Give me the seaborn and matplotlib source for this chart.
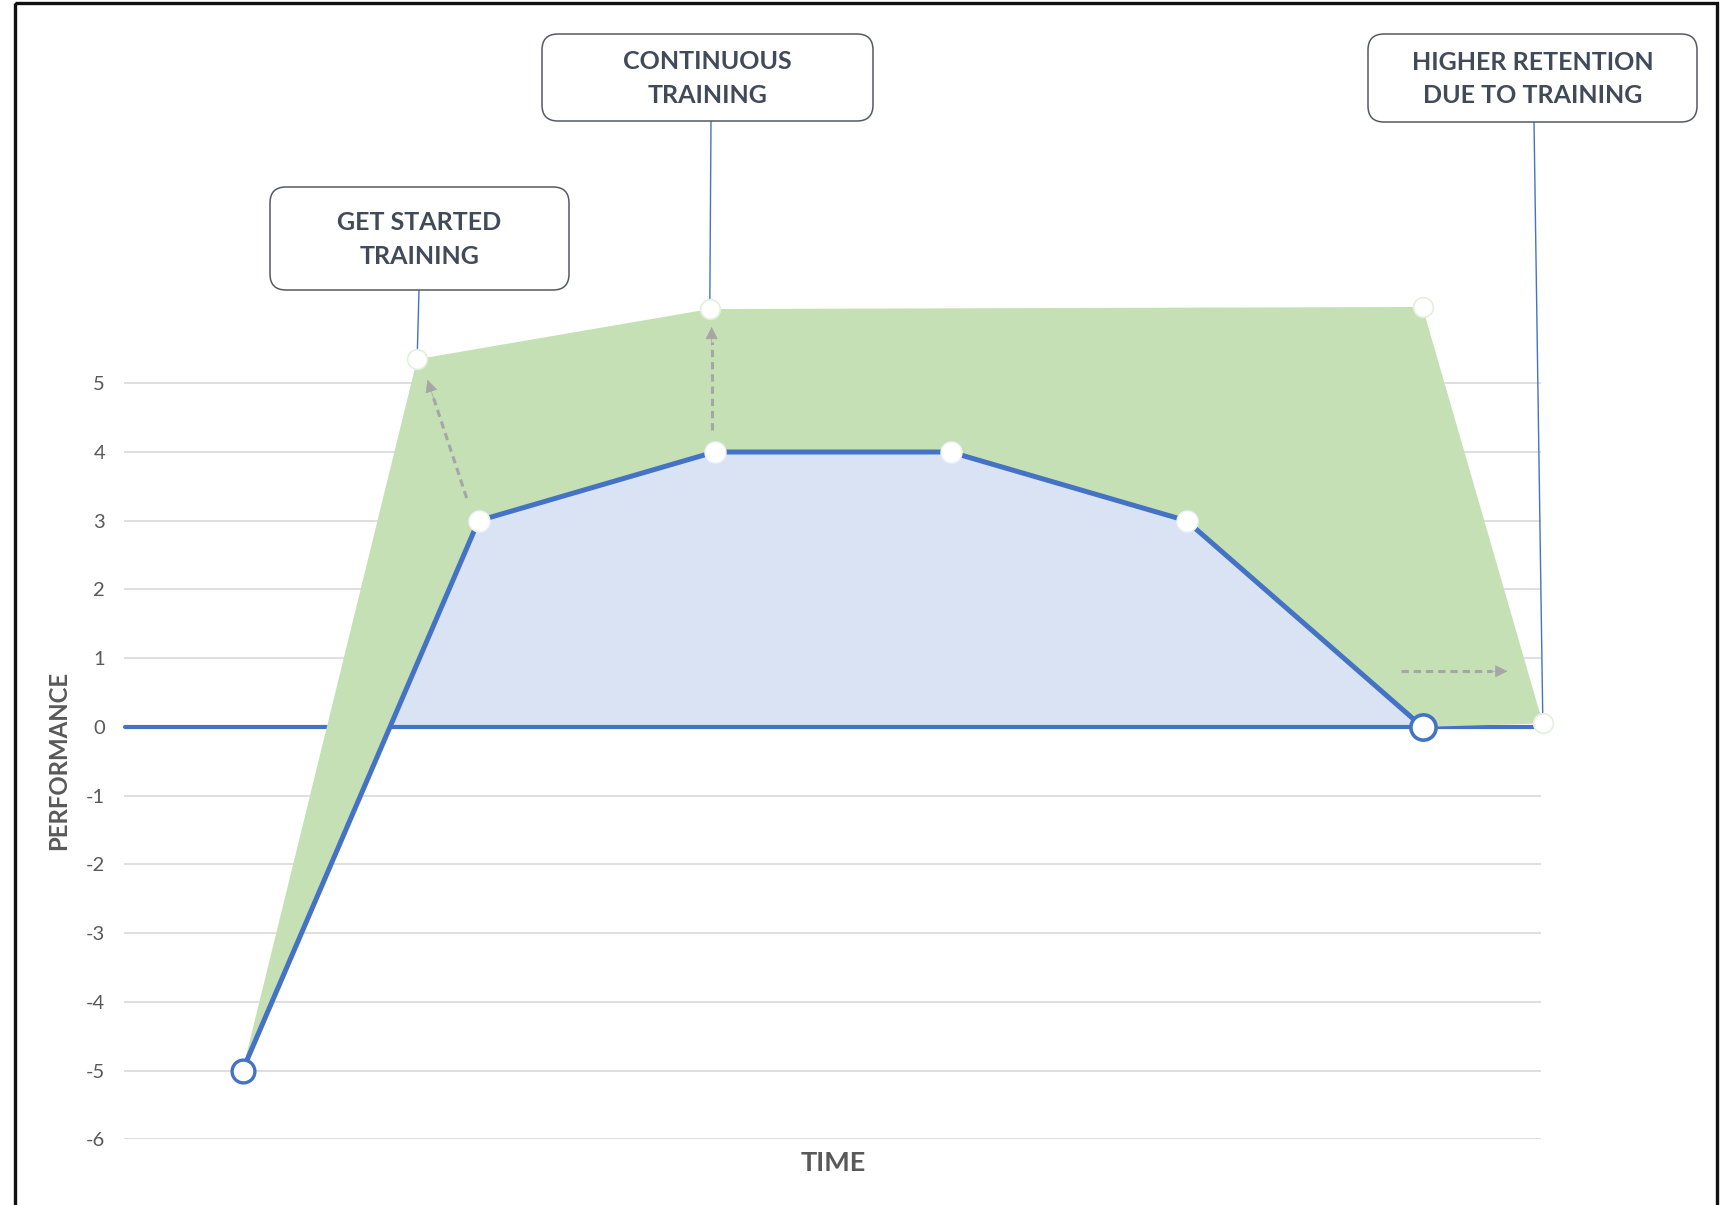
import numpy as np
import matplotlib
matplotlib.use("Agg")
import matplotlib.pyplot as plt
import matplotlib.transforms as mtransforms
from matplotlib.patches import FancyBboxPatch, Rectangle, ConnectionPatch
import seaborn as sns

# Performance per time period without continued training
periods = [0, 1, 2, 3, 4, 5]
performance = [-5, 3, 4, 4, 3, 0]

# Envelope reached when training continues
trained_time = [0.0, 0.74, 1.98, 5.0, 5.51]
trained_performance = [-5.0, 5.35, 6.08, 6.11, 0.05]

y_ticks = [-6, -5, -4, -3, -2, -1, 0, 1, 2, 3, 4, 5]
period_edges = [-0.5, 0.5, 1.5, 2.5, 3.5, 4.5, 5.5]

callout_labels = ["GET STARTED\nTRAINING", "CONTINUOUS\nTRAINING",
                  "HIGHER RETENTION\nDUE TO TRAINING"]
callout_point = [1, 2, 4]          # envelope point each callout refers to

# dashed guide arrows (start, tip) in data units
guide_arrows = [((0.95, 3.33), (0.784, 5.05)),
                ((1.988, 4.32), (1.988, 5.82)),
                ((4.91, 0.81), (5.36, 0.81))]

BLUE = "#4472C4"
BLUE_FILL = "#DAE3F3"
GREEN_FILL = "#C5E0B4"
GRID = "#D9D9D9"
LABEL = "#595959"
CALLOUT_TEXT = "#404A59"

sns.set_theme(style="white")
plt.rcParams["font.family"] = ["Lato", "DejaVu Sans"]

W, H = 1728, 1205
fig = plt.figure(figsize=(W / 100, H / 100), dpi=100)
fig.patch.set_facecolor("white")
# pixel coordinates with origin at the top-left corner
px = mtransforms.Affine2D().scale(1 / W, -1 / H).translate(0, 1) + fig.transFigure

x0_px, x1_px = 124.5, 1540.5
ymin, ymax = -6.0, 6.5
ybot_px, unit = 1139.3, 68.73
ytop_px = ybot_px - (ymax - ymin) * unit
ax = fig.add_axes([x0_px / W, 1 - ybot_px / H, (x1_px - x0_px) / W,
                   (ybot_px - ytop_px) / H])
ax.set_xlim(-0.5, 5.5)
ax.set_ylim(ymin, ymax)
ax.set_facecolor("none")

# grid and axes styling
ax.set_axisbelow(True)
ax.set_yticks(y_ticks)
ax.set_yticklabels([str(v) for v in y_ticks])
ax.yaxis.grid(True, color=GRID, lw=1.2)
ax.xaxis.grid(False)
for s in ["left", "right", "top"]:
    ax.spines[s].set_visible(False)
ax.spines["bottom"].set_position(("data", 0))
ax.spines["bottom"].set_color(BLUE)
ax.spines["bottom"].set_linewidth(3.0)
ax.spines["bottom"].set_capstyle("round")
ax.set_xticks(period_edges)
ax.set_xticklabels([])
ax.tick_params(axis="x", direction="out", length=4, width=2.2, color=BLUE)
ax.tick_params(axis="y", length=0, pad=14, labelsize=14.5, labelcolor=LABEL)
ax.set_xlabel("")
ax.set_ylabel("")

# light blue area under the baseline performance
perf = np.array(performance, dtype=float)
ax.fill_between(periods, 0, perf, where=perf >= 0, interpolate=True,
                color=BLUE_FILL, lw=0, zorder=1)

# green band between the baseline and the trained envelope
poly_x = np.concatenate([trained_time, periods[::-1]])
poly_y = np.concatenate([trained_performance, perf[::-1]])
ax.fill(poly_x, poly_y, color=GREEN_FILL, lw=0, zorder=3, clip_on=False)

# baseline line
sns.lineplot(x=periods, y=performance, color=BLUE, lw=3.6, ax=ax, zorder=4,
             solid_joinstyle="round", solid_capstyle="round")

# guide arrows
for (sx, sy), (tx, ty) in guide_arrows:
    dx, dy = tx - sx, ty - sy
    ax.plot([sx, sx + dx * 0.85], [sy, sy + dy * 0.85], color="#A6A6A6",
            lw=2.2, ls=(0, (2.4, 1.6)), zorder=4.5, solid_capstyle="butt")
    ax.annotate("", xy=(tx, ty), xytext=(sx + dx * 0.82, sy + dy * 0.82),
                arrowprops=dict(arrowstyle="-|>", color="#A6A6A6", lw=0.5,
                                mutation_scale=20, shrinkA=0, shrinkB=0),
                zorder=4.5)

# markers on the baseline
ax.scatter(periods[1:5], performance[1:5], s=230, color="white",
           edgecolor="#EEF2FA", linewidth=1.0, zorder=6)
ax.scatter([periods[0]], [performance[0]], s=270, color="white",
           edgecolor=BLUE, linewidth=2.4, zorder=6)
ax.scatter([periods[-1]], [performance[-1]], s=330, color="white",
           edgecolor=BLUE, linewidth=2.6, zorder=6)

# markers on the envelope
sns.scatterplot(x=trained_time[1:], y=trained_performance[1:], s=200,
                color="white", edgecolor="#E4EFDC", linewidth=1.2, ax=ax,
                zorder=6, clip_on=False)

# callout boxes (pixel layout) and their leader lines
boxes = [(270, 187, 569, 290), (542, 34, 873, 121), (1368, 34, 1697, 122)]
leader_top = [(419, 290), (711, 121), (1534, 122)]
for label, (l, t, r, b), (lx, ly), k in zip(callout_labels, boxes,
                                              leader_top, callout_point):
    box = FancyBboxPatch((l, t), r - l, b - t,
                         boxstyle="round,pad=0,rounding_size=16",
                         transform=px, facecolor="white",
                         edgecolor="#555A62", lw=1.1, zorder=10)
    fig.add_artist(box)
    fig.text((l + r) / 2, (t + b) / 2 + 1, label, transform=px,
             ha="center", va="center", fontsize=18, fontweight="bold",
             color=CALLOUT_TEXT, linespacing=1.55, zorder=11)
    con = ConnectionPatch(xyA=(lx, ly), coordsA=px,
                          xyB=(trained_time[k], trained_performance[k]),
                          coordsB=ax.transData, color=BLUE, lw=1.0,
                          zorder=5)
    ax.add_artist(con)

# axis titles
fig.text(833, 1163, "TIME", transform=px, ha="center", va="center",
         fontsize=19.5, fontweight="bold", color=LABEL)
fig.text(58.5, 760, "PERFORMANCE", transform=px, ha="center", va="center",
         rotation=90, fontsize=17.3, fontweight="bold", color=LABEL)

# outer frame
frame = Rectangle((15, 3), 1702, 1260, transform=px, fill=False,
                  edgecolor="#111111", lw=2.4, zorder=20, clip_on=False)
fig.add_artist(frame)

fig.savefig("out.png", dpi=100, facecolor="white")
